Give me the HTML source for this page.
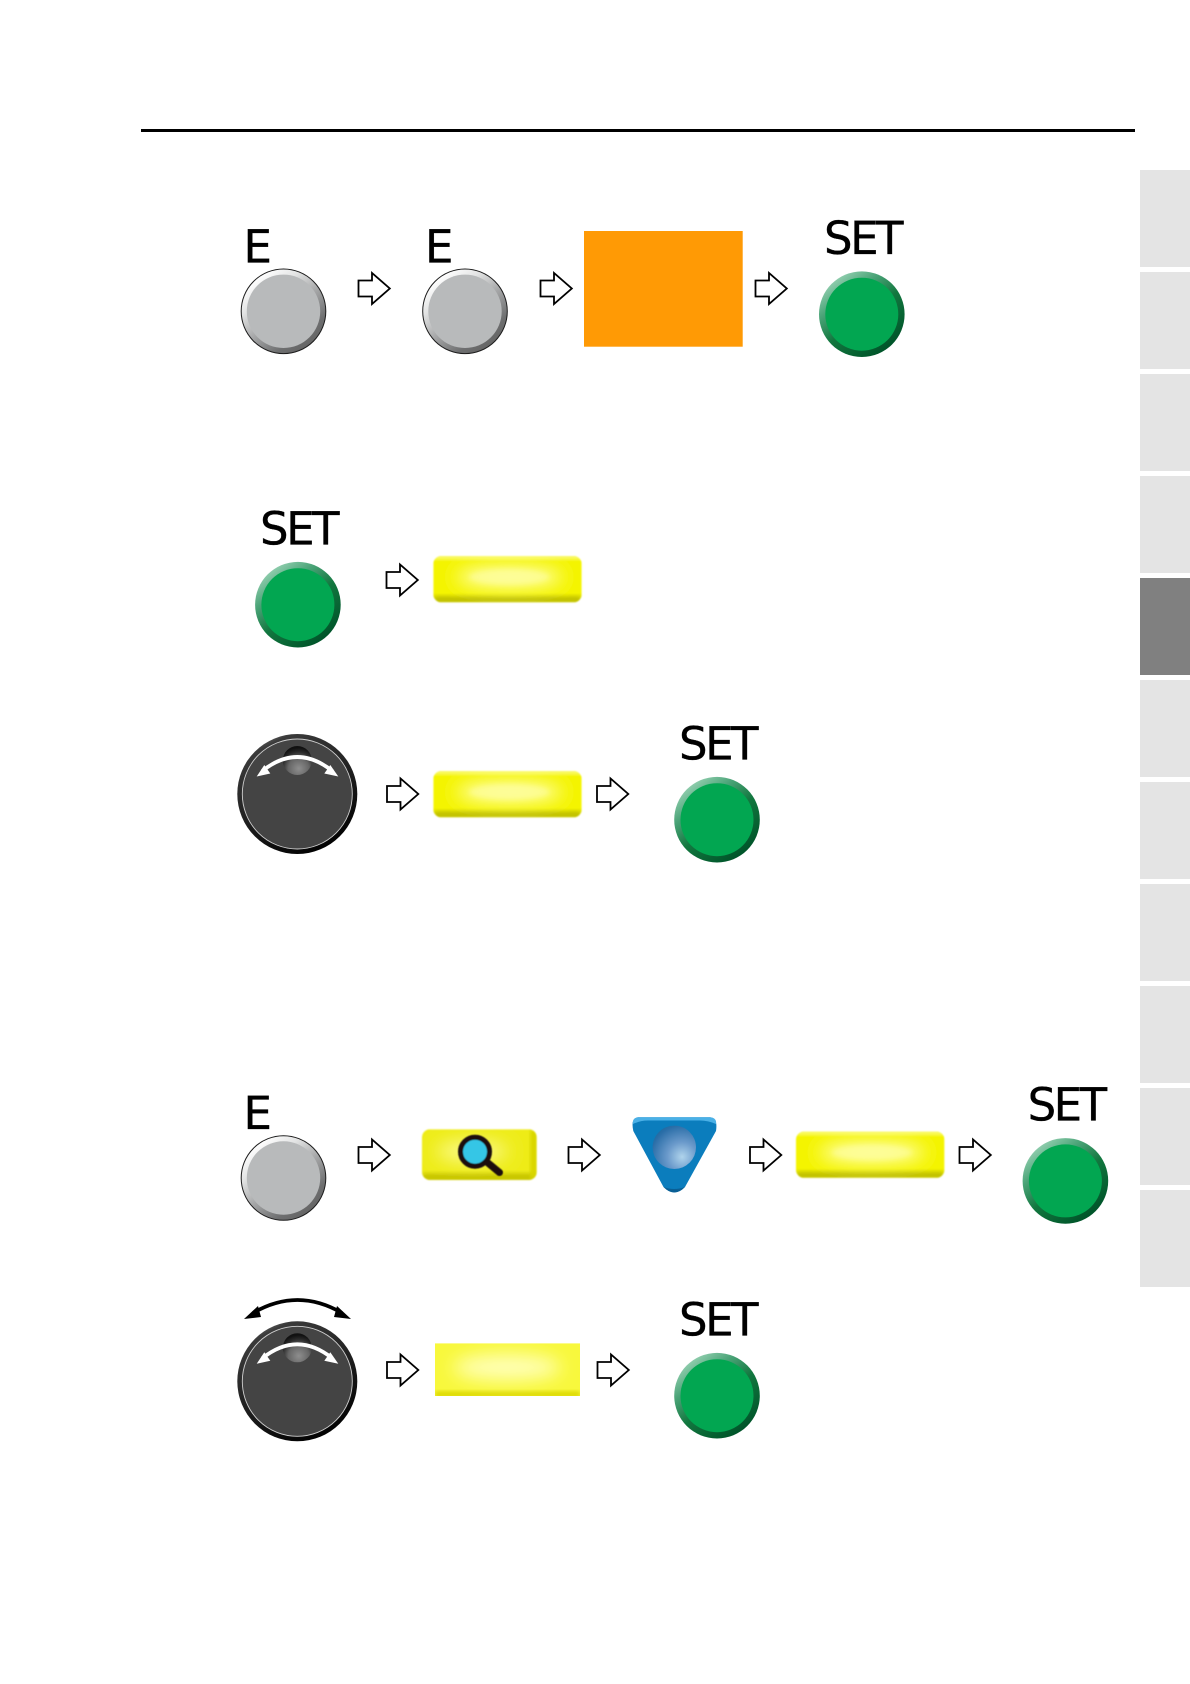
<!DOCTYPE html>
<html>
<head>
<meta charset="utf-8">
<style>
html,body{margin:0;padding:0;background:#fff;width:1190px;height:1684px;overflow:hidden}
svg{display:block}
text{font-family:"DejaVu Sans",sans-serif;font-size:45px;fill:#000;stroke:#000;stroke-width:0.35px}
.set{letter-spacing:-2.5px}
</style>
</head>
<body>
<svg width="1190" height="1684" viewBox="0 0 1190 1684" xmlns="http://www.w3.org/2000/svg">
<defs>
<linearGradient id="gr" x1="0.05" y1="0.2" x2="0.65" y2="1">
<stop offset="0" stop-color="#ffffff"/><stop offset="0.25" stop-color="#e2e3e3"/><stop offset="0.55" stop-color="#a4a5a6"/><stop offset="0.85" stop-color="#6e6f70"/><stop offset="1" stop-color="#666"/>
</linearGradient>
<linearGradient id="gn" x1="0.05" y1="0.2" x2="0.65" y2="1">
<stop offset="0" stop-color="#8fcdad"/><stop offset="0.25" stop-color="#4aa377"/><stop offset="0.55" stop-color="#12773f"/><stop offset="1" stop-color="#00552a"/>
</linearGradient>
<linearGradient id="kn" x1="0.2" y1="0" x2="0.7" y2="1">
<stop offset="0" stop-color="#777"/><stop offset="0.1" stop-color="#3a3a3a"/><stop offset="0.55" stop-color="#1e1e1e"/><stop offset="1" stop-color="#000"/>
</linearGradient>
<radialGradient id="dp" cx="0.55" cy="0.78" r="0.72">
<stop offset="0" stop-color="#8e8e8e"/><stop offset="0.5" stop-color="#666"/><stop offset="0.8" stop-color="#2a2a2a"/><stop offset="1" stop-color="#111"/>
</radialGradient>
<radialGradient id="sp" cx="0.68" cy="0.72" r="0.85">
<stop offset="0" stop-color="#b0d4ec"/><stop offset="0.4" stop-color="#6b9acb"/><stop offset="0.85" stop-color="#2a6ea8"/><stop offset="1" stop-color="#1a689f"/>
</radialGradient>
<filter id="b6" x="-40%" y="-80%" width="180%" height="260%"><feGaussianBlur stdDeviation="9"/></filter>
<filter id="b2" x="-10%" y="-30%" width="120%" height="160%"><feGaussianBlur stdDeviation="2"/></filter>
<filter id="b1" x="-5%" y="-10%" width="110%" height="120%"><feGaussianBlur stdDeviation="0.9"/></filter>
<filter id="b05" x="-10%" y="-10%" width="120%" height="120%"><feGaussianBlur stdDeviation="0.5"/></filter>
<clipPath id="yc"><rect x="0" y="0" width="148.4" height="46.3" rx="8"/></clipPath>
<clipPath id="yf"><rect x="0" y="0" width="145" height="52.7"/></clipPath>
<clipPath id="ym"><rect x="0" y="0" width="114.7" height="50.7" rx="8"/></clipPath>

<g id="arrow"><polygon points="0.5,-8 14,-8 14,-15.5 31.8,0 14,15.5 14,8 0.5,8" fill="#fff" stroke="#000" stroke-width="1.8" stroke-linejoin="miter"/></g>

<g id="gray">
<circle r="42.3" fill="url(#gr)" stroke="#1c1c1c" stroke-width="1"/>
<circle r="36.7" fill="#b8babb"/>
</g>
<g id="green">
<circle r="42.8" fill="url(#gn)"/>
<circle r="36.5" fill="#02a651"/>
</g>
<g id="knob">
<circle r="60" fill="url(#kn)"/>
<circle r="55" fill="#444" stroke="#cfcfcf" stroke-width="0.9"/>
<circle cy="-33.5" r="14.5" fill="url(#dp)"/>
<path d="M-35,-23 Q0,-51 35,-23" fill="none" stroke="#fff" stroke-width="3.8"/>
<polygon points="-40.6,-17.5 -33,-29 -27,-20.5" fill="#fff"/>
<polygon points="41,-17.5 33,-29 27,-20.5" fill="#fff"/>
</g>
<g id="yellow">
<g filter="url(#b1)">
<g clip-path="url(#yc)">
<rect width="148.4" height="46.3" fill="#f4f400"/>
<rect x="0" y="40" width="148.4" height="8" fill="#bfbf00" filter="url(#b2)"/>
<rect x="-2" y="-2" width="152" height="5" fill="#fbfb80" filter="url(#b2)"/>
<ellipse cx="76" cy="21" rx="54" ry="11" fill="#ffffa8" filter="url(#b6)"/>
<ellipse cx="76" cy="21" rx="40" ry="8" fill="#ffffb0" filter="url(#b2)" opacity="0.45"/>
</g>
</g>
</g>
</defs>

<rect width="1190" height="1684" fill="#fff"/>
<rect x="141" y="129" width="994" height="3" fill="#000"/>

<!-- side tabs -->
<g fill="#e4e4e4">
<rect x="1140" y="170" width="50" height="97"/>
<rect x="1140" y="272" width="50" height="97"/>
<rect x="1140" y="374" width="50" height="97"/>
<rect x="1140" y="476" width="50" height="97"/>
<rect x="1140" y="578" width="50" height="97" fill="#808080"/>
<rect x="1140" y="680" width="50" height="97"/>
<rect x="1140" y="782" width="50" height="97"/>
<rect x="1140" y="884" width="50" height="97"/>
<rect x="1140" y="986" width="50" height="97"/>
<rect x="1140" y="1088" width="50" height="97"/>
<rect x="1140" y="1190" width="50" height="97"/>
</g>

<!-- row 1 -->
<text x="243.5" y="262.3">E</text>
<use href="#gray" x="283.5" y="311.3"/>
<use href="#arrow" x="358" y="288.5"/>
<text x="425" y="262.3">E</text>
<use href="#gray" x="465" y="311.3"/>
<use href="#arrow" x="540" y="288.5"/>
<rect x="584" y="231" width="158.7" height="115.7" fill="#ff9a05"/>
<use href="#arrow" x="755" y="288.5"/>
<text class="set" x="824" y="254">SET</text>
<use href="#green" x="861.8" y="314.2"/>

<!-- row 2 -->
<text class="set" x="260" y="544.5">SET</text>
<use href="#green" x="297.9" y="604.7"/>
<use href="#arrow" x="386" y="580"/>
<use href="#yellow" x="433.3" y="556"/>

<!-- row 3 -->
<use href="#knob" x="297.3" y="794"/>
<use href="#arrow" x="386.5" y="794"/>
<use href="#yellow" x="433.3" y="771"/>
<use href="#arrow" x="596.5" y="794"/>
<text class="set" x="679" y="759.5">SET</text>
<use href="#green" x="717" y="819.7"/>

<!-- row 4 -->
<text x="243.5" y="1129">E</text>
<use href="#gray" x="283.5" y="1178"/>
<use href="#arrow" x="358" y="1155"/>
<g transform="translate(422,1129.3)" filter="url(#b1)">
<g clip-path="url(#ym)">
<rect width="114.7" height="50.7" fill="#eeec18"/>
<rect x="0" y="44" width="114.7" height="8" fill="#c6c400" filter="url(#b2)"/>
<rect x="108" y="0" width="8" height="50" fill="#d8d600" filter="url(#b2)"/>
<ellipse cx="50" cy="22" rx="36" ry="10" fill="#fbfb90" filter="url(#b6)"/>
</g>
</g>
<g filter="url(#b05)">
<circle cx="475" cy="1151.7" r="14.5" fill="#34c6e6" stroke="#1a0b0b" stroke-width="5"/>
<line x1="488" y1="1163" x2="499.5" y2="1172.5" stroke="#1a0b0b" stroke-width="7" stroke-linecap="round"/>
</g>
<use href="#arrow" x="568" y="1155"/>
<path d="M638,1117.3 H710 Q718,1118 716,1131 L685,1187 Q674.3,1198 663.5,1187 L633.3,1131 Q630.5,1118 638,1117.3 Z" fill="#0b7dbd"/>
<path d="M633,1124 Q632,1118 638,1117.3 H710 Q717,1118 716,1124 Q708,1120.5 700,1120.5 H648 Q640,1120.5 633,1124 Z" fill="#4ab0e6"/>
<path d="M663.5,1187 Q674,1191 685,1187 Q674.3,1198 663.5,1187 Z" fill="#0a5f95"/>
<circle cx="674.3" cy="1147.3" r="21.7" fill="url(#sp)"/>
<use href="#arrow" x="749.5" y="1155"/>
<use href="#yellow" x="796" y="1131.5"/>
<use href="#arrow" x="959" y="1155"/>
<text class="set" x="1027.6" y="1120.7">SET</text>
<use href="#green" x="1065.4" y="1180.9"/>

<!-- row 5 -->
<path d="M253,1313 Q297.5,1287 342,1313" fill="none" stroke="#000" stroke-width="3.6"/>
<polygon points="244,1319 258,1306 261,1317" fill="#000"/>
<polygon points="351,1319 337,1306 334,1317" fill="#000"/>
<use href="#knob" x="297.3" y="1381.3"/>
<use href="#arrow" x="386.5" y="1370"/>
<g transform="translate(435,1343.3)">
<g clip-path="url(#yf)">
<rect width="145" height="52.7" fill="#f8f83c"/>
<rect x="0" y="48" width="145" height="6" fill="#dcd800" filter="url(#b2)"/>
<ellipse cx="72" cy="24" rx="54" ry="13" fill="#ffffb8" filter="url(#b6)"/>
</g>
</g>
<use href="#arrow" x="597" y="1370"/>
<text class="set" x="679" y="1335.5">SET</text>
<use href="#green" x="717" y="1395.7"/>
</svg>
</body>
</html>
